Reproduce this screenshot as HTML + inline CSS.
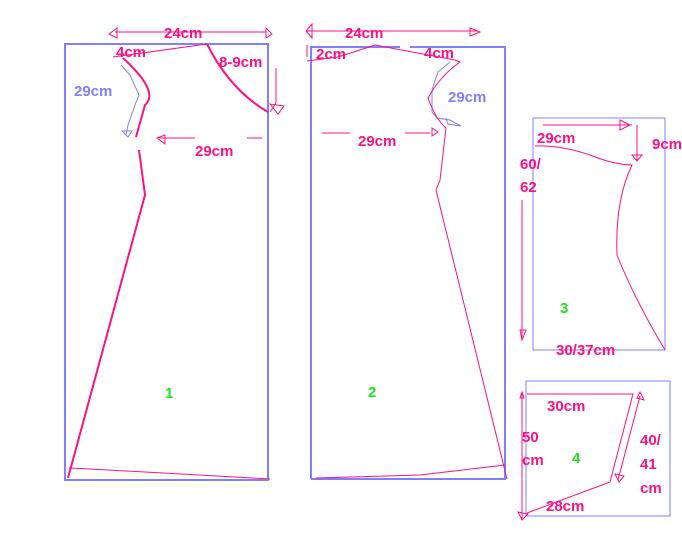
<!DOCTYPE html>
<html><head><style>body{margin:0;background:#fff}svg{display:block}text{font-family:"Liberation Sans",sans-serif;font-weight:bold;font-size:15px;fill:#ff1080}</style></head>
<body><svg width="682" height="551" viewBox="0 0 682 551">
<g fill="none" stroke="#8080ff" stroke-width="2">
<rect x="65" y="44" width="203" height="436"/>
<path d="M311,479 V47 H400 M410,47 H505 V479 H311"/>
</g>
<g fill="none" stroke="#8080ff" stroke-width="1">
<rect x="533" y="118" width="132" height="232"/>
<rect x="526" y="381" width="144" height="135"/>
<path d="M121,65 L130,75 L139,95 L135,105 L128,125 L126,135 M122,131 l6,6 l4,-6 z"/>
<path d="M450,62 L438,72 L432,90 L432,112 L437,118 L450,120 L461,126 L448,124 L446,118"/>
</g>
<g fill="none" stroke="#ff1080" stroke-width="2">
<path d="M123,58 Q160,92 145,105 L136,137 M139,150 L145,195 L68,478"/>
<path d="M207,44 Q230,90 268,112"/>
</g>
<g fill="none" stroke="#ff1080" stroke-width="1">
<path d="M113,57 L207,44 M69,468 L90,469 L270,479"/>
<path d="M115,32 H266 M117,28 l-8,6 l8,4 z M266,28 l6,6 l-6,4 z"/>
<path d="M270,112 L276,103 L276,68 M270,104 l8,10 l6,-8 z M159,138 H195 M247,138 H262 M165,135 l-8,3 l8,6 z"/>
<path d="M307,61 L338,57 Q360,50 375,45 L455,60 L460,62 Q440,76 428,98 Q436,120 446,128 L440,180 L436,190 L507,479 M316,478 L420,475 L505,465"/>
<path d="M307,31 H478 M312,24 l-6,7 l6,7 z M470,28 l10,4 l-10,4 z M322,133 H350 M405,133 H430 M432,128 l6,4 l-6,4 z M307,45 v12"/>
<path d="M543,125 H632 M620,120 l10,5 l-10,5 z M637,125 V160 M632,155 l5,6 l5,-6 z"/>
<path d="M535,146 Q560,145 590,155 Q615,165 632,165 Q615,200 617,255 Q635,300 665,350"/>
<path d="M522,200 V340 M520,330 l2,10 l4,-10 z"/>
<path d="M527,394 H633 L610,482 L527,513 M640,396 L618,480 M637,398 l3,-6 l4,8 z M615,474 l4,8 l5,-6 z"/>
<path d="M522,393 V520 M518,512 l4,8 l6,-6 z M520,398 l2,-6 l2,6 z"/>
</g>
<text x="164" y="38">24cm</text>
<text x="116" y="57">4cm</text>
<text x="219" y="67">8-9cm</text>
<text x="74" y="96" style="fill:#8080ff">29cm</text>
<text x="195" y="156">29cm</text>
<text x="345" y="38">24cm</text>
<text x="316" y="59">2cm</text>
<text x="424" y="58">4cm</text>
<text x="448" y="102" style="fill:#8080ff">29cm</text>
<text x="358" y="146">29cm</text>
<text x="537" y="143">29cm</text>
<text x="652" y="149">9cm</text>
<text x="520" y="169">60/</text>
<text x="520" y="192">62</text>
<text x="556" y="355">30/37cm</text>
<text x="547" y="411">30cm</text>
<text x="522" y="442">50</text>
<text x="522" y="465">cm</text>
<text x="640" y="445">40/</text>
<text x="640" y="469">41</text>
<text x="640" y="493">cm</text>
<text x="546" y="511">28cm</text>
<g style="font-weight:normal"><text x="165" y="398" style="fill:#20e020">1</text>
<text x="368" y="397" style="fill:#20e020">2</text>
<text x="560" y="313" style="fill:#20e020">3</text>
<text x="572" y="463" style="fill:#20e020">4</text></g>
</svg></body></html>
